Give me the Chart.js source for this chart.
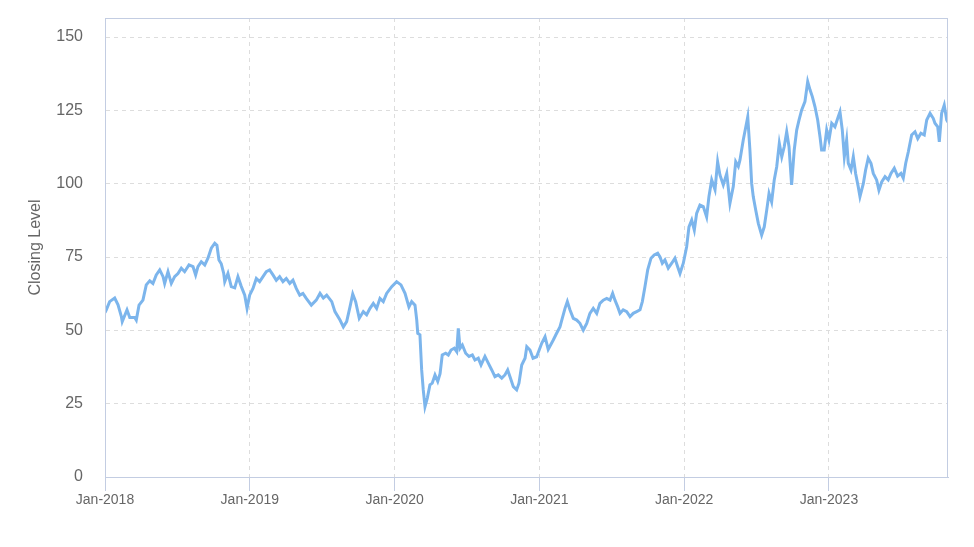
<!DOCTYPE html>
<html>
<head>
<meta charset="utf-8">
<script src="https://cdn.jsdelivr.net/npm/chart.js@4.4.0/dist/chart.umd.min.js"></script>
<style>
  html, body { margin: 0; padding: 0; background: #fff; }
  #wrap { width: 974px; height: 547px; }
</style>
</head>
<body>
<div id="wrap"><canvas id="myChart"></canvas></div>
<script>
// time as decimal years
var years = [
  2018.000, 2018.009, 2018.032, 2018.067, 2018.090, 2018.113, 2018.119, 2018.152, 2018.171, 2018.205,
  2018.216, 2018.235, 2018.262, 2018.285, 2018.309, 2018.331, 2018.354, 2018.378, 2018.401, 2018.412,
  2018.435, 2018.458, 2018.481, 2018.504, 2018.527, 2018.550, 2018.580, 2018.608, 2018.626, 2018.642,
  2018.665, 2018.689, 2018.711, 2018.734, 2018.758, 2018.773, 2018.787, 2018.803, 2018.820, 2018.827,
  2018.849, 2018.872, 2018.896, 2018.918, 2018.941, 2018.965, 2018.981, 2018.999, 2019.022, 2019.045,
  2019.068, 2019.091, 2019.114, 2019.137, 2019.160, 2019.183, 2019.206, 2019.229, 2019.252, 2019.276,
  2019.298, 2019.321, 2019.345, 2019.367, 2019.390, 2019.425, 2019.459, 2019.485, 2019.508, 2019.531,
  2019.566, 2019.588, 2019.623, 2019.646, 2019.669, 2019.692, 2019.711, 2019.731, 2019.756, 2019.784,
  2019.807, 2019.830, 2019.853, 2019.876, 2019.899, 2019.922, 2019.945, 2019.980, 2020.014, 2020.044,
  2020.072, 2020.099, 2020.118, 2020.141, 2020.153, 2020.160, 2020.175, 2020.187, 2020.198, 2020.210,
  2020.226, 2020.244, 2020.260, 2020.279, 2020.298, 2020.314, 2020.329, 2020.353, 2020.371, 2020.390,
  2020.412, 2020.429, 2020.440, 2020.452, 2020.468, 2020.491, 2020.514, 2020.537, 2020.555, 2020.578,
  2020.597, 2020.624, 2020.647, 2020.671, 2020.693, 2020.716, 2020.740, 2020.762, 2020.781, 2020.797,
  2020.820, 2020.843, 2020.859, 2020.878, 2020.901, 2020.913, 2020.935, 2020.956, 2020.981, 2021.016,
  2021.039, 2021.061, 2021.096, 2021.119, 2021.142, 2021.158, 2021.177, 2021.193, 2021.211, 2021.234,
  2021.258, 2021.280, 2021.303, 2021.327, 2021.349, 2021.372, 2021.396, 2021.418, 2021.441, 2021.465,
  2021.488, 2021.506, 2021.522, 2021.541, 2021.557, 2021.579, 2021.603, 2021.626, 2021.648, 2021.672,
  2021.695, 2021.711, 2021.729, 2021.748, 2021.771, 2021.793, 2021.817, 2021.833, 2021.849, 2021.867,
  2021.890, 2021.914, 2021.936, 2021.955, 2021.971, 2021.994, 2022.017, 2022.033, 2022.052, 2022.070,
  2022.086, 2022.109, 2022.132, 2022.155, 2022.171, 2022.190, 2022.213, 2022.231, 2022.247, 2022.270,
  2022.294, 2022.316, 2022.339, 2022.356, 2022.374, 2022.385, 2022.408, 2022.439, 2022.454, 2022.466,
  2022.477, 2022.494, 2022.512, 2022.535, 2022.553, 2022.570, 2022.586, 2022.604, 2022.622, 2022.639,
  2022.657, 2022.674, 2022.691, 2022.708, 2022.724, 2022.742, 2022.760, 2022.777, 2022.793, 2022.811,
  2022.834, 2022.853, 2022.869, 2022.885, 2022.903, 2022.922, 2022.938, 2022.949, 2022.967, 2022.984,
  2023.000, 2023.019, 2023.041, 2023.064, 2023.076, 2023.092, 2023.106, 2023.122, 2023.133, 2023.152,
  2023.168, 2023.184, 2023.202, 2023.214, 2023.237, 2023.253, 2023.271, 2023.290, 2023.306, 2023.329,
  2023.345, 2023.364, 2023.387, 2023.409, 2023.428, 2023.451, 2023.474, 2023.497, 2023.513, 2023.530,
  2023.548, 2023.571, 2023.594, 2023.613, 2023.635, 2023.658, 2023.675, 2023.698, 2023.720, 2023.732,
  2023.751, 2023.762, 2023.778, 2023.796, 2023.813, 2023.822
];
var closing = [
  56, 57, 59.8, 61, 58.7, 54.7, 53, 57, 54.4, 54.4,
  53.5, 58.6, 60.3, 65.5, 66.9, 66, 68.9, 70.6, 68.3, 66,
  70, 66, 68.3, 69.4, 71.2, 70, 72.3, 71.7, 68.9, 71.7,
  73.4, 72.3, 74.6, 78, 79.7, 79, 74, 72.7, 69.4, 66.6,
  69.4, 64.9, 64.5, 68.3, 65, 62, 57.5, 62, 64.3, 67.7,
  66.6, 68.3, 70, 70.6, 68.9, 67.1, 68.3, 66.6, 67.7, 66,
  67.1, 64.3, 62, 62.6, 60.9, 58.6, 60.3, 62.6, 61, 62,
  59.8, 56.4, 53.5, 51.2, 53, 58, 62.4, 59.8, 54.1, 56.4,
  55.3, 57.5, 59.2, 57.5, 60.9, 59.8, 62.6, 64.9, 66.6, 65.5,
  62.6, 58, 59.8, 58.6, 53.5, 49, 48.5, 36.5, 29.7, 24,
  26.9, 31.4, 32, 34.8, 32.6, 35.2, 41.6, 42.2, 41.6, 43.3,
  43.9, 42.7, 50.7, 43.9, 45, 42.2, 41.1, 41.6, 39.9, 40.5,
  38.2, 41.1, 38.8, 36.5, 34.2, 34.8, 33.7, 34.8, 36.5, 34.2,
  30.8, 29.7, 32, 38.2, 40.5, 44.4, 43.3, 40.5, 41, 45.6,
  47.8, 43.5, 46.7, 49, 51.2, 54.1, 57.5, 59.8, 57, 54.1,
  53.5, 52.4, 50.1, 52.4, 55.8, 57.5, 55.8, 59.2, 60.3, 60.9,
  60.3, 62.6, 60.3, 58, 55.8, 57, 56.4, 54.7, 55.8, 56.4,
  57, 59.8, 64.9, 70.6, 74.6, 75.7, 76.3, 75, 72.9, 74,
  71.2, 72.9, 74.6, 71.7, 69.4, 72.9, 78.5, 85.3, 87.6, 84.2,
  89.9, 92.7, 92.2, 88.7, 95.6, 101.3, 98, 107.5, 103, 99.6,
  103.5, 93.3, 99, 107.5, 105.9, 108, 114.9, 122.8, 111.5, 100.1,
  95.6, 91, 86.5, 82.5, 85.3, 91, 96.7, 93.8, 101.3, 105.8,
  113.8, 109.2, 112.6, 117.7, 112.6, 99.6, 111.5, 118.3, 121.7, 125.1,
  128, 134.8, 132, 129.7, 126.3, 121.7, 116, 111.5, 111.5, 118.3,
  114.9, 120.6, 119.4, 122.8, 124.5, 118.3, 109.2, 114.9, 107, 104.7,
  109.2, 103.5, 99, 95.6, 100, 104.7, 108.7, 107, 103.5, 101.3,
  97.8, 100.6, 102.4, 101.3, 103.5, 105.3, 102.6, 103.5, 101.9, 107,
  110.9, 116.6, 117.7, 115.4, 117.2, 116.6, 121.7, 124, 122.3, 120.6,
  119.4, 114.3, 124, 126.8, 121.7, 121
];
var tickYears = [2018, 2019, 2020, 2021, 2022, 2023];
var yTicks = [0, 25, 50, 75, 100, 125, 150];

var points = years.map(function (y, i) { return { x: y, y: closing[i] }; });

var axisBlue = "#c3cde2";
var gridGrey = "#dddddd";
var textGrey = "#666666";

// box round the plot area (top and right sides)
var frame = {
  id: "frame",
  afterDraw: function (chart) {
    var a = chart.chartArea, c = chart.ctx;
    c.save();
    c.strokeStyle = axisBlue;
    c.lineWidth = 1;
    c.strokeRect(a.left + 0.5, a.top + 0.5, a.right - a.left - 1, a.bottom - a.top);
    c.restore();
  }
};

var ctx = document.getElementById("myChart").getContext("2d");
var chart = new Chart(ctx, {
  type: "line",
  data: {
    datasets: [
      {
        label: "Closing Level",
        data: points,
        borderColor: "#7cb5ec",
        borderWidth: 3,
        pointRadius: 0,
        tension: 0,
        fill: false
      }
    ]
  },
  options: {
    responsive: true,
    maintainAspectRatio: false,
    animation: false,
    layout: { padding: { top: 18, right: 26, left: 0, bottom: 0 } },
    plugins: { legend: { display: false }, tooltip: { enabled: false } },
    scales: {
      x: {
        type: "linear",
        min: 2018,
        max: 2023.822,
        afterBuildTicks: function (axis) {
          axis.ticks = tickYears.map(function (v) { return { value: v }; });
        },
        afterFit: function (axis) {
          axis.height = 70;
          axis.paddingLeft = 0;
          axis.paddingRight = 0;
        },
        ticks: {
          autoSkip: false,
          maxRotation: 0,
          padding: 1,
          color: textGrey,
          font: { family: "'Liberation Sans', Arial, sans-serif", size: 14 },
          callback: function (v) { return "Jan-" + v; }
        },
        grid: { color: gridGrey, tickColor: axisBlue, tickLength: 14 },
        border: { color: axisBlue, dash: [4, 4] }
      },
      y: {
        min: 0,
        max: 156.5,
        afterBuildTicks: function (axis) {
          axis.ticks = yTicks.map(function (v) { return { value: v }; });
        },
        afterFit: function (axis) {
          axis.width = 105;
          axis.paddingTop = 0;
          axis.paddingBottom = 0;
        },
        ticks: {
          padding: 22,
          color: textGrey,
          font: { family: "'Liberation Sans', Arial, sans-serif", size: 16 }
        },
        grid: { color: gridGrey, drawTicks: false },
        border: { color: axisBlue, dash: [4, 4] },
        title: {
          display: true,
          text: "Closing Level",
          color: textGrey,
          padding: { top: 26, bottom: 0 },
          font: { family: "'Liberation Sans', Arial, sans-serif", size: 16 }
        }
      }
    }
  },
  plugins: [frame]
});
</script>
</body>
</html>
